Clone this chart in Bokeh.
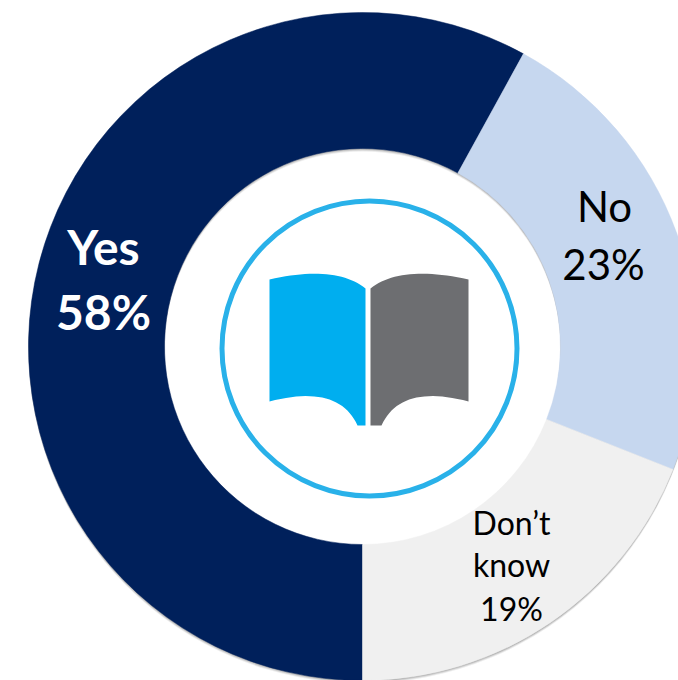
from math import pi

from bokeh.core.properties import value
from bokeh.embed import file_html
from bokeh.models import Range1d
from bokeh.plotting import figure
from bokeh.resources import INLINE

# Survey responses, in percent, clockwise from the bottom of the ring
categories = ["Yes", "No", "Don\u2019t know"]
shares = [58, 23, 19]
colors = ["#00205b", "#c6d7ef", "#f0f0f0"]

WIDTH, HEIGHT = 678, 680
CX, CY = 362, HEIGHT - 346
R_OUT, R_IN = 334, 198

p = figure(width=WIDTH, height=HEIGHT, output_backend="svg", toolbar_location=None,
           x_range=Range1d(0, WIDTH), y_range=Range1d(0, HEIGHT), min_border=0)
p.axis.visible = False
p.grid.visible = False
p.outline_line_color = None
p.background_fill_color = "white"
p.border_fill_color = "white"

# Soft drop shadow under the ring
for off, alpha in ((3.0, 0.10), (2.0, 0.16), (1.0, 0.20)):
    p.annular_wedge(x=CX, y=CY - off, inner_radius=R_IN, outer_radius=R_OUT,
                    start_angle=0, end_angle=2 * pi, fill_color="#404040",
                    fill_alpha=alpha, line_color=None)

# Ring segments: walk clockwise from the bottom
starts, ends = [], []
angle = -pi / 2
for share in shares:
    starts.append(angle)
    angle -= share / sum(shares) * 2 * pi
    ends.append(angle)

p.annular_wedge(x=[CX] * 3, y=[CY] * 3, inner_radius=R_IN, outer_radius=R_OUT,
                start_angle=starts, end_angle=ends, direction="clock",
                fill_color=colors, line_color=colors, line_width=0.5)

# Emblem circle in the hole of the ring
EX, EY = 369, HEIGHT - 348
p.circle(x=EX, y=EY, radius=147.5, fill_color=None, line_color="#29b1e9", line_width=5)


def bezier(p0, p1, p2, n=24):
    """Sample a quadratic curve between p0 and p2."""
    pts = []
    for i in range(n + 1):
        t = i / n
        pts.append(((1 - t) ** 2 * p0[0] + 2 * t * (1 - t) * p1[0] + t ** 2 * p2[0],
                    (1 - t) ** 2 * p0[1] + 2 * t * (1 - t) * p1[1] + t ** 2 * p2[1]))
    return pts


def page(outline, color):
    xs = [q[0] for q in outline]
    ys = [HEIGHT - q[1] for q in outline]
    p.patch(xs, ys, fill_color=color, line_color=None)


# Open book: one blue page, one grey page, measured from the top-left corner
left_page = (
    [(269, 279)]
    + bezier((269, 279), (335, 264), (365, 288))
    + [(365, 425), (357, 425)]
    + bezier((357, 425), (338, 383), (269, 401))
)
right_page = (
    [(370, 288)]
    + bezier((370, 288), (400, 264), (468, 279))
    + [(468, 401)]
    + bezier((468, 401), (400, 383), (381, 425))
    + [(370, 425)]
)
page(left_page, "#00aeef")
page(right_page, "#6d6e71")


def label(x, y, text, size, color="black", weight="normal"):
    p.text(x=[x], y=[HEIGHT - y], text=[text], text_font=value("Lato"),
           text_font_size=size, text_color=color, text_font_style=weight,
           text_align="center", text_baseline="middle")


label(103, 246, categories[0], "48px", "white", "bold")
label(103, 311, f"{shares[0]}%", "48px", "white", "bold")
label(604, 205, categories[1], "42px")
label(603, 263, f"{shares[1]}%", "42px")
label(511, 522, "Don\u2019t", "32px")
label(511, 564, "know", "32px")
label(511, 608, f"{shares[2]}%", "32px")

open("out.html", "w").write(file_html(p, INLINE))
